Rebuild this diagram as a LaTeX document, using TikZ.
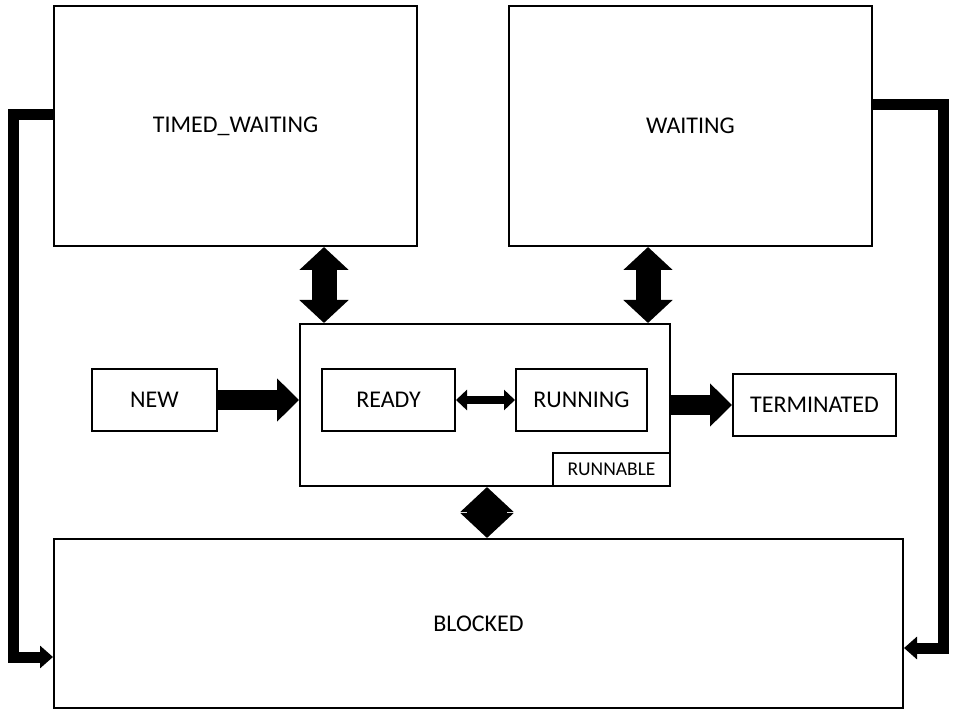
\documentclass[tikz,border=0pt]{standalone}
\usepackage{fontspec}
\setmainfont{Carlito}
\usetikzlibrary{arrows.meta}
\begin{document}
\begin{tikzpicture}[x=1pt,y=-1pt,
  box/.style={draw,line width=2pt,inner sep=0pt,font=\fontsize{24}{28}\selectfont},
  bigarrow/.style={line width=20pt,draw=black,-{Triangle[width=42pt,length=22pt]}},
  dblarrow/.style={line width=25pt,draw=black,{Triangle[width=48pt,length=23pt]}-{Triangle[width=48pt,length=23pt]}},
  diaarrow/.style={line width=40pt,draw=black,{Triangle[width=52pt,length=25pt]}-{Triangle[width=52pt,length=25pt]}},
  thinarrow/.style={line width=8pt,draw=black,{Triangle[width=20pt,length=11pt]}-{Triangle[width=20pt,length=11pt]}},
  larrow/.style={line width=11pt,draw=black,line join=miter,-{Triangle[width=22pt,length=13pt]}}]
\useasboundingbox (0,0) rectangle (970,714);
\node[box,minimum width=363pt,minimum height=240pt] (tw) at (235.5,126) {TIMED\_WAITING};
\node[box,minimum width=363pt,minimum height=240pt] (w) at (690.5,126) {WAITING};
\node[box,minimum width=370pt,minimum height=162pt] (run) at (485,405) {};
\node[box,minimum width=133pt,minimum height=62pt] (ready) at (388.5,400) {READY};
\node[box,minimum width=131pt,minimum height=62pt] (running) at (581.5,400) {RUNNING};
\node[box,minimum width=117pt,minimum height=33pt,font=\fontsize{19.5}{23}\selectfont] (rlabel) at (611.5,469.5) {RUNNABLE};
\node[box,minimum width=125pt,minimum height=62pt] (new) at (154.5,400) {NEW};
\node[box,minimum width=163pt,minimum height=62pt] (term) at (814.5,405) {TERMINATED};
\node[box,minimum width=849pt,minimum height=169pt] (blk) at (478.5,623.5) {BLOCKED};
\coordinate (xa) at (324,0);
\coordinate (xb) at (648,0);
\coordinate (xc) at (487,0);
\coordinate (la) at (13,115);
\coordinate (lb) at (13,657);
\coordinate (ra) at (943,105);
\coordinate (rb) at (943,648);
\draw[bigarrow] (new.east) -- (new.east -| run.west);
\draw[bigarrow] (run.east) -- (term.west);
\draw[thinarrow] (ready.east) -- (running.west);
\draw[dblarrow] (tw.south -| xa) -- (run.north -| xa);
\draw[dblarrow] (w.south -| xb) -- (run.north -| xb);
\draw[diaarrow] (run.south -| xc) -- (blk.north -| xc);
\draw[larrow] (tw.west |- la) -- (la) -- (lb) -- (blk.west |- lb);
\draw[larrow] (w.east |- ra) -- (ra) -- (rb) -- (blk.east |- rb);
\end{tikzpicture}
\end{document}
